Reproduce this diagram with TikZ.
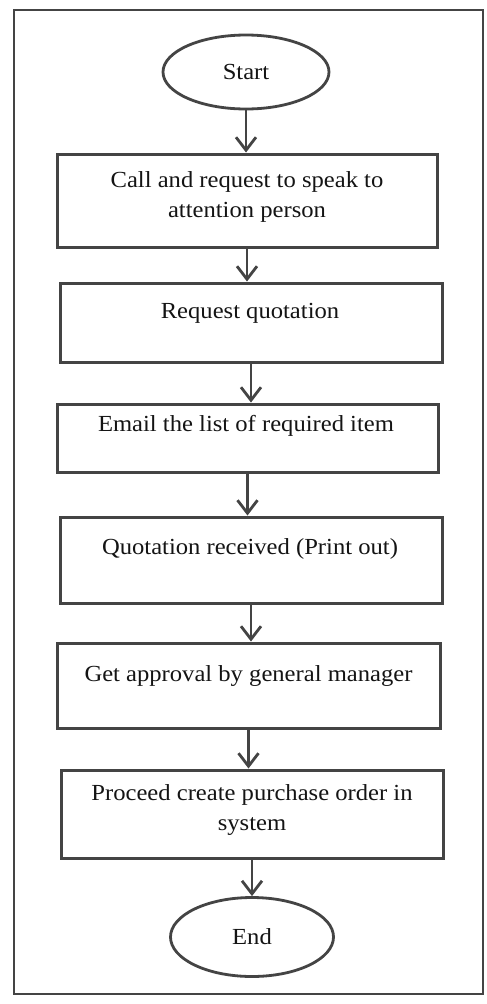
\documentclass[tikz,border=0pt]{standalone}
\usepackage{fontspec}
\setmainfont{Liberation Serif}[FakeStretch=1.07]
\usetikzlibrary{arrows.meta,shapes.geometric}
\definecolor{ink}{HTML}{444444}
\definecolor{txt}{HTML}{141414}
\tikzset{
  stepbox/.style={draw=ink, line width=3pt, rectangle, inner sep=0pt},
  terminal/.style={draw=ink, line width=2.8pt, ellipse, inner sep=0pt},
  lbl/.style={text=txt, align=center, font=\fontsize{23}{30}\selectfont, inner sep=0pt},
  flow/.style={draw=ink, line width=2.8pt, -{Straight Barb[length=13pt,width=20pt,line width=2.8pt]}},
  frame/.style={draw=ink, line width=2.4pt}
}
\begin{document}
\begin{tikzpicture}[x=1pt,y=-1pt]
  \useasboundingbox[fill=white] (0,0) rectangle (487,1004);
  \draw[frame] (14,10) rectangle (483,994);

  % terminals and process steps
  \node[terminal, minimum width=166pt, minimum height=74pt] (start) at (246,72) {};
  \node[lbl] (startt) at (246,72) {Start};

  \node[stepbox, minimum width=380pt, minimum height=93pt] (b1) at (247,200.5) {};
  \node[lbl] (b1t) at (247,197) {Call and request to speak to\\attention person};

  \node[stepbox, minimum width=382pt, minimum height=79pt] (b2) at (251,322.5) {};
  \node[lbl] (b2t) at (250,313) {Request quotation};

  \node[stepbox, minimum width=381pt, minimum height=68pt] (b3) at (247.5,438) {};
  \node[lbl] (b3t) at (246,426) {Email the list of required item};

  \node[stepbox, minimum width=382pt, minimum height=86pt] (b4) at (251,560) {};
  \node[lbl] (b4t) at (250,549) {Quotation received (Print out)};

  \node[stepbox, minimum width=383pt, minimum height=85pt] (b5) at (248.5,685.5) {};
  \node[lbl] (b5t) at (248.5,676) {Get approval by general manager};

  \node[stepbox, minimum width=382pt, minimum height=88pt] (b6) at (252,814) {};
  \node[lbl] (b6t) at (252,810) {Proceed create purchase order in\\system};

  \node[terminal, minimum width=163pt, minimum height=79pt] (end) at (252,937) {};
  \node[lbl] (endt) at (252,937) {End};

  % connectors
  \draw[flow] (start.south) -- (start.south |- b1.north);
  \draw[flow] (b1.south) -- (b1.south |- b2.north);
  \draw[flow] (b2.south) -- (b2.south |- b3.north);
  \draw[flow] (b3.south) -- (b3.south |- b4.north);
  \draw[flow] (b4.south) -- (b4.south |- b5.north);
  \draw[flow] (b5.south) -- (b5.south |- b6.north);
  \draw[flow] (b6.south) -- (b6.south |- end.north);
\end{tikzpicture}
\end{document}
